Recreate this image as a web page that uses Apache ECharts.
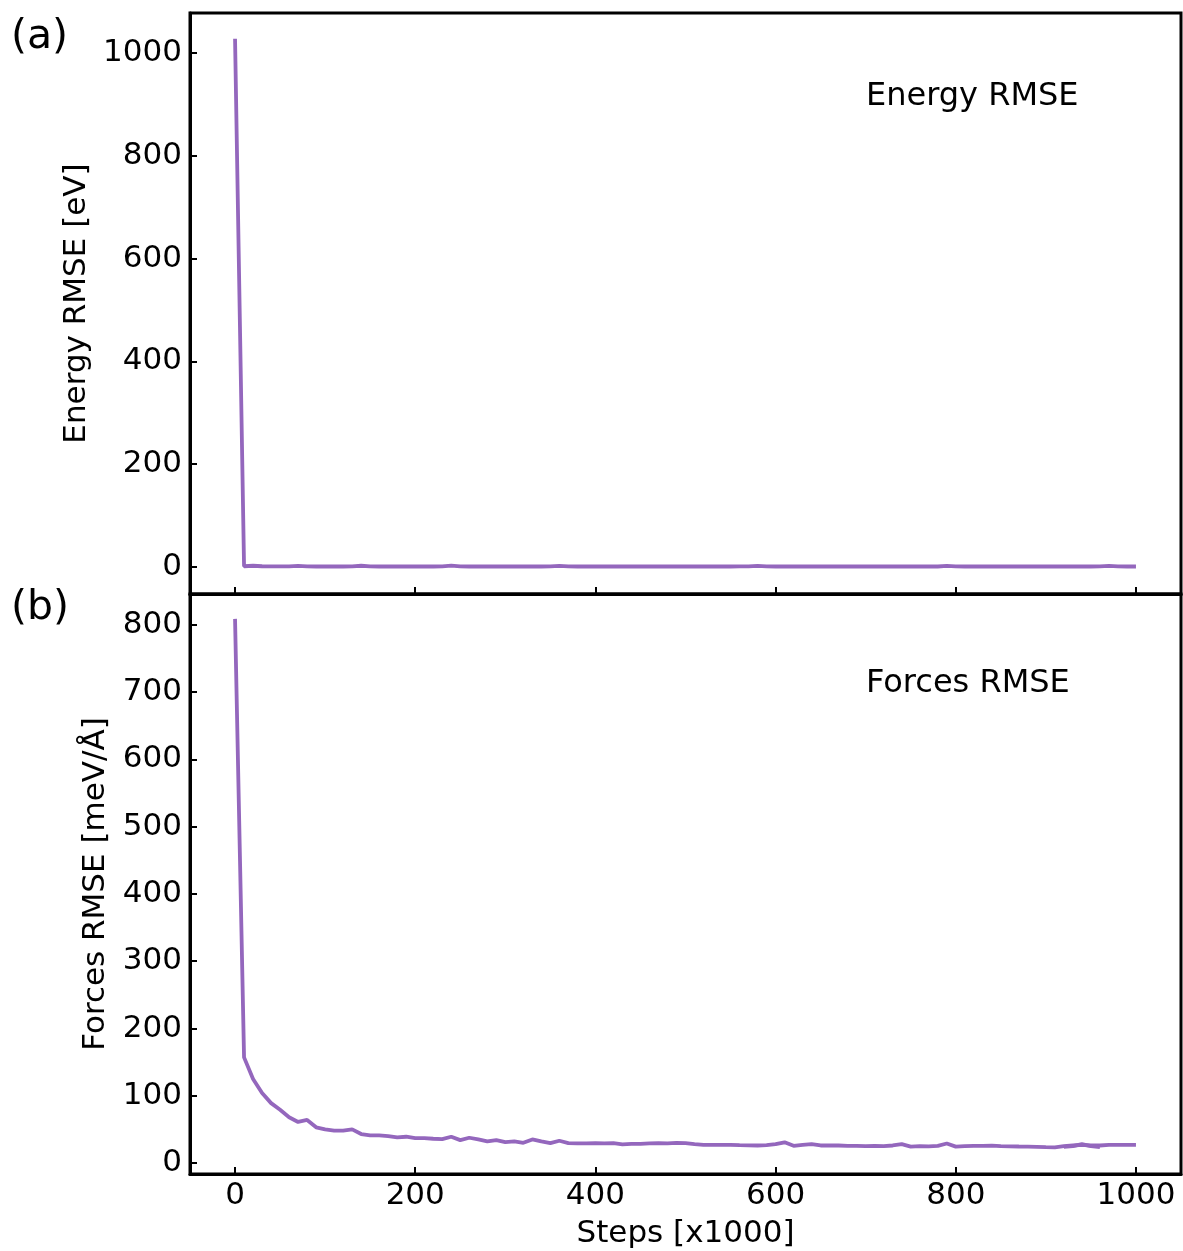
<!DOCTYPE html>
<html>
<head>
<meta charset="utf-8">
<script src="https://cdn.jsdelivr.net/npm/echarts@6/dist/echarts.min.js"></script>
<style>
html,body{margin:0;padding:0;background:#fff;}
#chart{width:1183px;height:1251px;}
</style>
</head>
<body>
<div id="chart"></div>
<script>
// ---- data ----
const steps = [0,10,20,30,40,50,60,70,80,90,100,110,120,130,140,150,160,170,180,190,200,210,220,230,240,250,260,270,280,290,300,310,320,330,340,350,360,370,380,390,400,410,420,430,440,450,460,470,480,490,500,510,520,530,540,550,560,570,580,590,600,610,620,630,640,650,660,670,680,690,700,710,720,730,740,750,760,770,780,790,800,810,820,830,840,850,860,870,880,890,900,910,920,930,940,950,960,970,980,990,1000];
const energyRmse = [1028,1.5,2.5,1.5,1.2,1.1,1.2,2.2,1.2,1.0,1.0,1.1,1.0,1.2,2.5,1.2,1.0,1.0,1.1,1.0,1.0,1.1,1.0,1.2,2.6,1.2,1.0,1.1,1.0,1.0,1.1,1.0,1.0,1.1,1.0,1.2,2.2,1.2,1.0,1.0,1.1,1.0,1.0,1.0,1.1,1.0,1.0,1.0,1.1,1.0,1.0,1.0,1.1,1.0,1.0,1.0,1.1,1.2,2.4,1.2,1.0,1.0,1.1,1.0,1.0,1.0,1.1,1.0,1.0,1.0,1.0,1.1,1.0,1.0,1.0,1.1,1.0,1.0,1.0,2.3,1.2,1.0,1.0,1.1,1.0,1.0,1.0,1.1,1.0,1.0,1.0,1.0,1.1,1.0,1.0,1.0,1.1,2.3,1.1,1.0,1.0];
const forcesRmse = [809,157,125,104,89,79,68,61,64,53,50,48,48,50,43,41,41,40,38,39,37,37,36,35.5,39,34,37.5,35,32,34,31,32,30,35,32,29.5,33,29.5,29,29,29.5,29,29.5,27.8,28.3,28.5,29,29.5,29,30,29.5,28,26.8,26.8,26.8,26.8,26.5,26.3,26,26.5,28,30.7,25.5,27,28,26,26,26,25.5,25.5,25,25.5,25,26,28,24.3,25,24.8,25.5,29,24.3,25,25.3,25.5,25.8,25,24.8,24.5,24.3,24,23.5,23.3,25,26,27,26,26,27,27,26.8,26.8];
const extraSteps = [920,930,940,950,960];
const extraForces = [24,25,28,25,23.5];
const xTicks = [0,200,400,600,800,1000];
const energyTicks = [0,200,400,600,800,1000];
const forcesTicks = [0,100,200,300,400,500,600,700,800];

const FONT = 'DejaVu Sans';
const COLOR = '#9467bd';
const pairs = (xs, ys) => xs.map((x, i) => [x, ys[i]]);
const plain = v => String(v);

function xAxisCfg(gridIndex, showLabels, name) {
  return {
    type: 'value', gridIndex, min: -50, max: 1050,
    name: name || '', nameLocation: 'middle', nameGap: 44,
    nameTextStyle: {fontFamily: FONT, fontSize: 31, color: '#000'},
    axisLine: {show: true, onZero: false, lineStyle: {color: '#000', width: 3}},
    axisTick: {show: true, inside: true, length: 7, customValues: xTicks, lineStyle: {color: '#000', width: 2}},
    axisLabel: {show: showLabels, customValues: xTicks, formatter: plain, margin: 6, fontFamily: FONT, fontSize: 31, color: '#000'},
    splitLine: {show: false}
  };
}
function yAxisCfg(gridIndex, min, max, ticks, name, gap) {
  return {
    type: 'value', gridIndex, min, max,
    name, nameLocation: 'middle', nameGap: gap, nameRotate: 90,
    nameTextStyle: {fontFamily: FONT, fontSize: 31, color: '#000'},
    axisLine: {show: true, onZero: false, lineStyle: {color: '#000', width: 3}},
    axisTick: {show: true, inside: true, length: 7, customValues: ticks, lineStyle: {color: '#000', width: 2}},
    axisLabel: {customValues: ticks, formatter: plain, margin: 8, fontFamily: FONT, fontSize: 31, color: '#000'},
    splitLine: {show: false}
  };
}

const chart = echarts.init(document.getElementById('chart'), null, {renderer: 'canvas'});
chart.setOption({
  animation: false,
  backgroundColor: '#fff',
  textStyle: {fontFamily: FONT},
  grid: [
    {left: 190, top: 13, width: 991, height: 581, show: true, borderColor: '#000', borderWidth: 3, backgroundColor: 'transparent'},
    {left: 190, top: 594, width: 991, height: 580, show: true, borderColor: '#000', borderWidth: 3, backgroundColor: 'transparent'}
  ],
  xAxis: [xAxisCfg(0, false), xAxisCfg(1, true, 'Steps [x1000]')],
  yAxis: [
    yAxisCfg(0, -52.5, 1078, energyTicks, 'Energy RMSE [eV]', 87),
    yAxisCfg(1, -16.4, 846, forcesTicks, 'Forces RMSE [meV/Å]', 73)
  ],
  series: [
    {type: 'line', xAxisIndex: 0, yAxisIndex: 0, data: pairs(steps, energyRmse), showSymbol: false, lineStyle: {color: COLOR, width: 3.8}, itemStyle: {color: COLOR}},
    {type: 'line', xAxisIndex: 1, yAxisIndex: 1, data: pairs(steps, forcesRmse), showSymbol: false, lineStyle: {color: COLOR, width: 3.8}, itemStyle: {color: COLOR}},
    {type: 'line', xAxisIndex: 1, yAxisIndex: 1, data: pairs(extraSteps, extraForces), showSymbol: false, lineStyle: {color: COLOR, width: 3.8}, itemStyle: {color: COLOR}}
  ],
  graphic: [
    {type: 'text', left: 11, top: 17, style: {text: '(a)', font: '41px "DejaVu Sans"', fill: '#000'}},
    {type: 'text', left: 11, top: 588, style: {text: '(b)', font: '41px "DejaVu Sans"', fill: '#000'}},
    {type: 'text', left: 866, top: 81, style: {text: 'Energy RMSE', font: '32px "DejaVu Sans"', fill: '#000'}},
    {type: 'text', left: 866, top: 668, style: {text: 'Forces RMSE', font: '32px "DejaVu Sans"', fill: '#000'}}
  ]
});
</script>
</body>
</html>
